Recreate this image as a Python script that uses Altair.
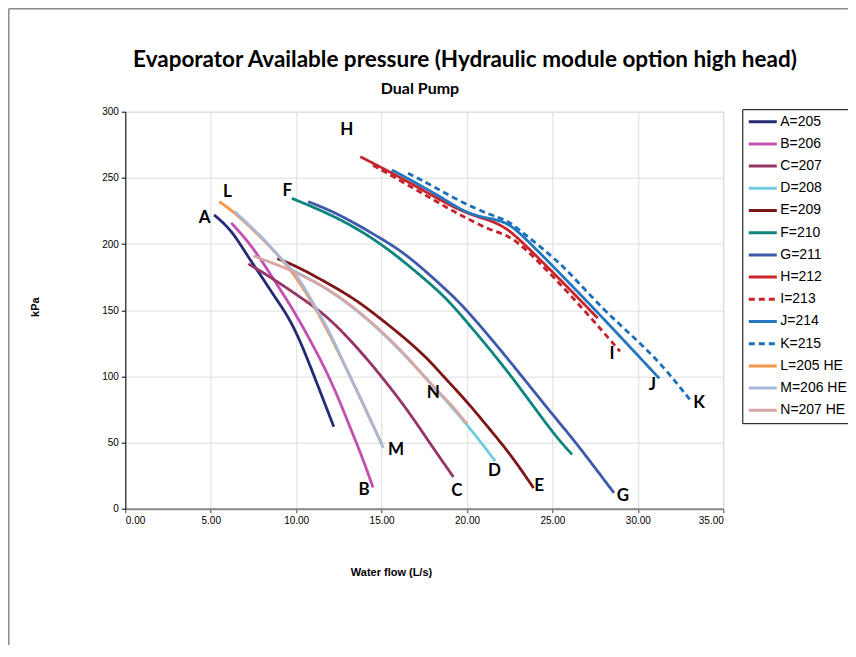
import altair as alt
import pandas as pd

# ---------------- data ----------------
series_names = ["A=205", "B=206", "C=207", "D=208", "E=209", "F=210", "G=211",
                "H=212", "I=213", "J=214", "K=215", "L=205 HE", "M=206 HE", "N=207 HE"]
series_colors = ["#262A74", "#C44FB0", "#953566", "#70CCDE", "#7E1618", "#0B857E", "#3E58AA",
                 "#C9242B", "#C4232A", "#2277C0", "#1E6FB9", "#F7964A", "#A8B8D8", "#D8A6A5"]
series_dash = [[1, 0], [1, 0], [1, 0], [1, 0], [1, 0], [1, 0], [1, 0],
               [1, 0], [6, 4], [1, 0], [6, 4], [1, 0], [1, 0], [1, 0]]

A_x = [5.2, 6.2, 7.2, 8.0, 8.8, 9.5, 10.2, 11.0, 11.6, 12.2]
A_y = [222, 211, 190, 175, 159, 146, 128, 102, 82, 62]
B_x = [6.2, 7.4, 8.6, 9.7, 10.5, 12.0, 13.2, 13.9, 14.5]
B_y = [216, 199, 175, 153, 135, 99, 60, 38, 16]
C_x = [7.2, 8.5, 10.0, 11.0, 12.0, 13.5, 15.0, 16.5, 17.8, 19.2]
C_y = [185, 175, 162, 153, 143, 123, 100, 75, 50, 24]
D_x = [9.5, 12.0, 15.0, 17.8, 20.0, 21.65]
D_y = [182, 166, 135, 96, 64, 36]
E_x = [8.9, 10.0, 11.9, 13.5, 15.0, 16.5, 17.8, 18.4, 20.0, 21.2, 22.5, 23.9]
E_y = [189, 183.5, 170, 158, 143, 127.5, 112, 103, 81, 62, 42, 15.6]
F_x = [9.75, 12.4, 15.0, 17.4, 18.8, 20.0, 22.5, 25.0, 26.15]
F_y = [234.5, 220.5, 200.6, 175, 159, 141, 102.5, 57.2, 41]
G_x = [10.7, 12.4, 15.0, 16.5, 19.0, 20.0, 22.3, 25.0, 26.2, 28.6]
G_y = [232, 223.5, 204, 192, 163, 150, 115, 71, 53, 12]
H_x = [13.75, 14.9, 17.05, 18.6, 20.0, 21.35, 22.35, 23.3, 25.05, 27.65]
H_y = [266, 258.5, 243.5, 232, 223, 218, 212, 200.5, 178.5, 144]
I_x = [14.5, 17.05, 19.0, 20.0, 21.35, 22.35, 23.3, 25.05, 27.0, 28.95]
I_y = [259.5, 241, 226, 219.5, 210.5, 207, 198, 175.5, 148, 119]
J_x = [15.6, 17.05, 18.6, 19.8, 20.95, 21.95, 22.7, 23.7, 25.05, 27.6, 29.95, 31.25]
J_y = [256, 246, 234.5, 224.5, 220, 218, 213, 200.5, 183, 149, 116.5, 98.5]
K_x = [16.55, 18.05, 19.6, 21.35, 22.35, 23.1, 24.85, 25.85, 28.0, 29.95, 31.5, 33.05]
K_y = [253.5, 243.5, 232, 222, 218, 210.5, 192, 180.5, 150, 127.5, 107.5, 82.3]
L_x = [5.5, 6.4, 8.2, 10.0, 12.0, 13.95, 15.0]
L_y = [232, 224, 202, 177, 132, 78, 49]
M_x = [6.4, 8.2, 9.15, 10.0, 11.0, 12.0, 12.95, 13.95, 15.1]
M_y = [224.5, 203, 188, 178, 155, 133, 105, 79, 46]
N_x = [7.5, 10.0, 12.0, 13.5, 15.0, 16.5, 17.8, 19.0, 20.0]
N_y = [191, 179, 165, 151, 134, 115, 95, 80, 64]

label_text = ["A", "L", "F", "H", "B", "M", "N", "C", "D", "E", "G", "I", "J", "K"]
label_x = [4.65, 5.97, 9.48, 12.96, 13.97, 15.85, 18.03, 19.4, 21.6, 24.22, 29.12, 28.48, 30.85, 33.59]
label_y = [220, 239, 240, 286, 14, 44.5, 87.3, 13, 28.7, 17.4, 9.3, 117, 93.6, 79.8]

x_ticks = [0, 5, 10, 15, 20, 25, 30, 35]
y_ticks = [0, 50, 100, 150, 200, 250, 300]

title_text = "Evaporator Available pressure (Hydraulic module option high head)"
subtitle_text = "Dual Pump"

all_x = [A_x, B_x, C_x, D_x, E_x, F_x, G_x, H_x, I_x, J_x, K_x, L_x, M_x, N_x]
all_y = [A_y, B_y, C_y, D_y, E_y, F_y, G_y, H_y, I_y, J_y, K_y, L_y, M_y, N_y]

rows = []
for name, xs, ys in zip(series_names, all_x, all_y):
    for i, (xv, yv) in enumerate(zip(xs, ys)):
        rows.append({"series": name, "flow": xv, "kpa": yv, "i": i})
df = pd.DataFrame(rows)
labels_df = pd.DataFrame({"t": label_text, "flow": label_x, "kpa": label_y})

W, H = 598, 397

legend = alt.Legend(
    title=None, orient="none", legendX=617, legendY=-2.5,
    symbolType="stroke", symbolSize=784, symbolStrokeWidth=3, clipHeight=15,
    rowPadding=7.2, labelFont="Liberation Sans", labelFontSize=14, labelColor="#000",
    labelOffset=2, padding=5, strokeColor="#000", fillColor="#fff",
)

xscale = alt.Scale(domain=[0, 35], nice=False, zero=False)
yscale = alt.Scale(domain=[0, 300], nice=False)

lines = alt.Chart(df).mark_line(interpolate="basis", strokeWidth=2.8).encode(
    x=alt.X("flow:Q", scale=xscale,
            axis=alt.Axis(values=x_ticks, format=".2f", title="Water flow (L/s)",
                          titleX=265.7, titleY=64, titleBaseline="middle", titleAlign="center",
                          domainColor="#888", domainWidth=2, tickColor="#444", tickSize=4,
                          labelPadding=3)),
    y=alt.Y("kpa:Q", scale=yscale,
            axis=alt.Axis(values=y_ticks, title="kPa", titleX=-90, titleY=195,
                          titleAngle=270, titleBaseline="middle", titleAlign="center",
                          domainColor="#000", domainWidth=1, tickColor="#000", tickSize=4,
                          labelPadding=3)),
    color=alt.Color("series:N", scale=alt.Scale(domain=series_names, range=series_colors),
                    legend=legend),
    strokeDash=alt.StrokeDash("series:N", scale=alt.Scale(domain=series_names, range=series_dash),
                              legend=legend),
    order="i:Q",
)

letters = alt.Chart(labels_df).mark_text(font="Lato", fontWeight="bold", fontSize=17,
                                         color="#000").encode(
    x=alt.X("flow:Q", scale=xscale), y=alt.Y("kpa:Q", scale=yscale), text="t:N")

one = pd.DataFrame({"a": [0]})
border_style = dict(color="#8a8a8a", strokeWidth=1.5)
frame_left = alt.Chart(one).mark_rule(**border_style).encode(
    x=alt.value(-116.5), y=alt.value(-102.9), y2=alt.value(560))
frame_top = alt.Chart(one).mark_rule(**border_style).encode(
    x=alt.value(-116.5), x2=alt.value(722.5), y=alt.value(-102.9))

title = alt.Chart(one).mark_text(text=title_text, font="Lato", fontWeight="bold",
                                 fontSize=22.5, color="#000", baseline="middle").encode(
    x=alt.value(339.7), y=alt.value(-51.5))
subtitle = alt.Chart(one).mark_text(text=subtitle_text, font="Lato", fontWeight="bold",
                                    fontSize=16, color="#000", baseline="middle").encode(
    x=alt.value(294.7), y=alt.value(-22.5))

chart = alt.layer(frame_left, frame_top, lines, letters, title, subtitle).properties(
    width=W, height=H,
    autosize=alt.AutoSizeParams(type="none"),
    padding={"left": 117.3, "top": 103.7, "right": 124.5, "bottom": 136},
).configure_view(stroke=None).configure_axis(
    grid=True, gridColor="#111", gridDash=[2, 2], gridWidth=1, gridOpacity=1,
    labelFont="Liberation Sans", labelFontSize=9, labelColor="#000",
    titleFont="Liberation Sans", titleFontSize=8, titleFontWeight="bold", titleColor="#000",
).configure(background="#fff")

chart.save("out.html", embed_options={"renderer": "svg", "actions": False})
